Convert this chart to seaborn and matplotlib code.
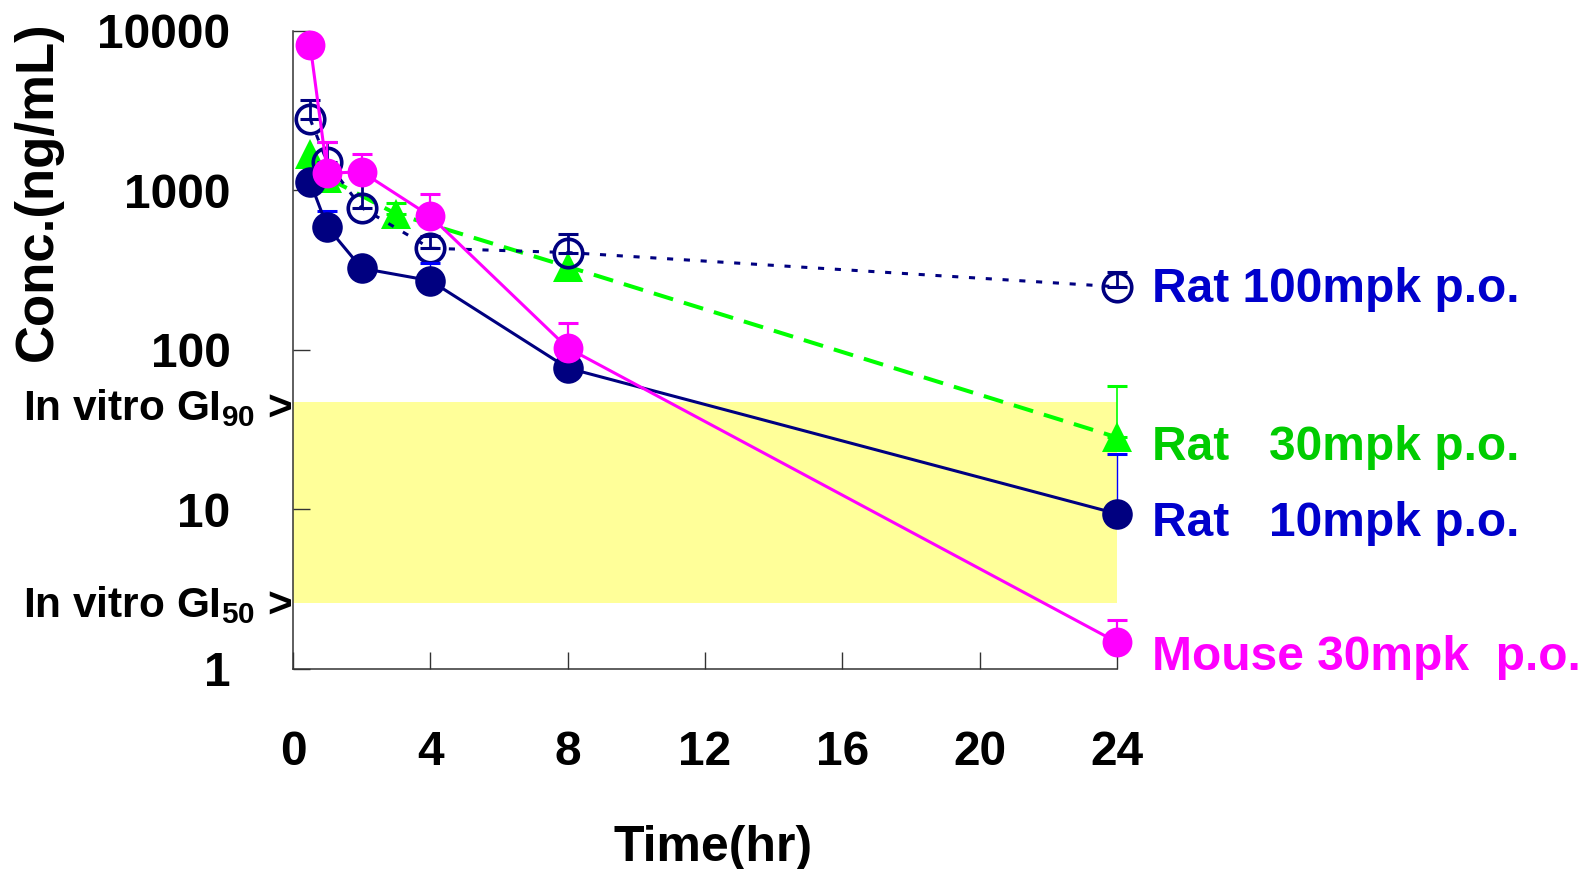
import numpy as np
import pandas as pd
import matplotlib
matplotlib.use("Agg")
import matplotlib.pyplot as plt
import seaborn as sns
from matplotlib.ticker import FixedLocator, NullLocator

# -----------------------------
# Data
# -----------------------------
time_h = [0.5, 1, 2, 4, 8, 24]
time_rat30 = [0.5, 1, 3, 8, 24]

rat_100 = [2800, 1500, 780, 434, 408, 249]
rat_100_hi = [3690, 2025, 1200, 515, 531, 310]

rat_30 = [1700, 1200, 713, 333, 28.3]
rat_30_hi = [1700, 1200, 830, 333, 59.7]

rat_10 = [1130, 590, 325, 272, 77, 9.4]
rat_10_hi = [1130, 740, 325, 351, 77, 22.3]

mouse_30 = [8200, 1280, 1310, 690, 103, 1.47]
mouse_30_hi = [8200, 2020, 1690, 950, 148, 2.03]

gi90 = 47
gi50 = 2.6

x_ticks = [0, 4, 8, 12, 16, 20, 24]
y_ticks = [1, 10, 100, 1000, 10000]
y_tick_labels = ["1", "10", "100", "1000", "10000"]

labels = ["Rat 100mpk p.o.", "Rat   30mpk p.o.", "Rat   10mpk p.o.", "Mouse 30mpk  p.o."]

# -----------------------------
# Style
# -----------------------------
sns.set_style("white")
plt.rcParams["font.family"] = ["Liberation Sans", "DejaVu Sans"]
plt.rcParams["font.weight"] = "bold"
plt.rcParams["text.color"] = "black"
plt.rcParams["axes.labelcolor"] = "black"
plt.rcParams["xtick.color"] = "black"
plt.rcParams["ytick.color"] = "black"
plt.rcParams["mathtext.fontset"] = "custom"
plt.rcParams["mathtext.rm"] = "Liberation Sans:bold"
plt.rcParams["mathtext.it"] = "Liberation Sans:bold"
plt.rcParams["mathtext.bf"] = "Liberation Sans:bold"

navy = "#000080"
blue_txt = "#0000CC"
green = "#00FF00"
green_txt = "#00CC00"
magenta = "#FF00FF"

fig = plt.figure(figsize=(15.88, 8.69), dpi=100)
ax = fig.add_axes([0.1845, 0.2302, 0.5189, 0.7342])

# yellow GI50-GI90 band
ax.axhspan(gi50, gi90, color="#FFFF99", zorder=0, lw=0)


def upper_bars(t, y, hi, color, lw, z):
    t = np.asarray(t, dtype=float)
    y = np.asarray(y, dtype=float)
    hi = np.asarray(hi, dtype=float)
    m = hi > y
    bars = ax.errorbar(t[m], y[m], yerr=[np.zeros(m.sum()), hi[m] - y[m]],
                       fmt="none", ecolor=color, elinewidth=lw,
                       capsize=7, capthick=2.2, zorder=z)
    for art in bars.lines[1] + bars.lines[2]:
        art.set_clip_on(False)


# Rat 30mpk (green dashed, triangles)
upper_bars(time_rat30, rat_30, rat_30_hi, green, 1.2, 2.9)
sns.lineplot(x=time_rat30, y=rat_30, ax=ax, color=green, lw=2.9,
             linestyle=(0, (5, 2.8)), marker="^", markersize=21,
             markerfacecolor=green, markeredgecolor=green,
             markeredgewidth=0, errorbar=None, zorder=3, clip_on=False)

# Rat 100mpk (navy dotted, open circles)
upper_bars(time_h, rat_100, rat_100_hi, navy, 2.0, 3.9)
sns.lineplot(x=time_h, y=rat_100, ax=ax, color=navy, lw=2.2,
             linestyle=(0, (2, 3.5)), marker="o", markersize=20.5,
             markerfacecolor="none", markeredgecolor=navy,
             markeredgewidth=2.6, errorbar=None, zorder=4, clip_on=False)

# Rat 10mpk (navy solid, filled circles)
upper_bars(time_h, rat_10, rat_10_hi, "#0000FF", 1.0, 4.9)
sns.lineplot(x=time_h, y=rat_10, ax=ax, color=navy, lw=2.2,
             marker="o", markersize=22, markerfacecolor=navy,
             markeredgecolor=navy, markeredgewidth=0,
             errorbar=None, zorder=5, clip_on=False)

# Mouse 30mpk (magenta solid, filled circles)
upper_bars(time_h, mouse_30, mouse_30_hi, magenta, 1.6, 5.9)
sns.lineplot(x=time_h, y=mouse_30, ax=ax, color=magenta, lw=2.2,
             marker="o", markersize=21.5, markerfacecolor=magenta,
             markeredgecolor=magenta, markeredgewidth=0,
             errorbar=None, zorder=6, clip_on=False)

# -----------------------------
# Axes
# -----------------------------
ax.set_yscale("log")
ax.set_xlim(0, 24)
ax.set_ylim(1, 10000)
ax.xaxis.set_major_locator(FixedLocator(x_ticks))
ax.set_xticklabels([str(v) for v in x_ticks])
ax.yaxis.set_major_locator(FixedLocator(y_ticks))
ax.yaxis.set_minor_locator(NullLocator())
ax.set_yticklabels(y_tick_labels)

sns.despine(ax=ax)
for side in ["left", "bottom"]:
    ax.spines[side].set_color("#333333")
    ax.spines[side].set_linewidth(1.1)

ax.tick_params(axis="both", which="major", direction="in", length=12,
               width=1.0, color="#333333", labelsize=34.5,
               bottom=True, left=True, labelcolor="black")
ax.tick_params(axis="x", pad=44)
ax.tick_params(axis="y", pad=45)
for lab in ax.get_xticklabels() + ax.get_yticklabels():
    lab.set_fontweight("bold")

ax.set_xlabel("Time(hr)", fontsize=36, fontweight="bold", labelpad=36)
ax.xaxis.label.set_x(0.51)
ax.set_ylabel("Conc.(ng/mL)", fontsize=38, fontweight="bold")
ax.yaxis.set_label_coords(-0.279, 0.749)

# GI labels on the left
for val, sub, dy in [(gi90, "90", -13), (gi50, "50", -10)]:
    ax.annotate("In vitro GI$_{" + sub + "}$ >", xy=(0, val),
                xycoords=("axes fraction", "data"), xytext=(-1, dy),
                textcoords="offset points", ha="right", va="baseline",
                fontsize=30.5, fontweight="bold", annotation_clip=False)

# series labels on the right
last_vals = [rat_100[-1], rat_30[-1], rat_10[-1], mouse_30[-1]]
label_colors = [blue_txt, green_txt, blue_txt, magenta]
label_dy = [-10.8, -16.3, -16.3, -20]
for text, val, col, dy in zip(labels, last_vals, label_colors, label_dy):
    ax.annotate(text, xy=(24, val), xytext=(25, dy),
                textcoords="offset points", ha="left", va="baseline",
                color=col, fontsize=34.5, fontweight="bold",
                annotation_clip=False)

fig.savefig("out.png", dpi=100)
